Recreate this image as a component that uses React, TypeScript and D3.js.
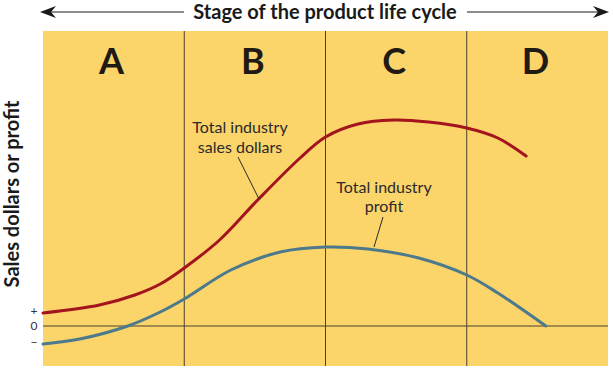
import React from "react";
import * as d3 from "d3";

const stages = ["A", "B", "C", "D"];
// x in stage units (0..4), y in arbitrary sales/profit units (0 = break-even)
const salesX = [0, 0.4, 0.65, 0.83, 1.0, 1.25, 1.52, 1.82, 2.0, 2.23, 2.48, 2.73, 3.0, 3.22, 3.42];
const salesY = [13, 21, 31, 42, 58, 86, 126, 168, 189, 202, 206, 204, 198, 188, 170];
const profitX = [0, 0.26, 0.6, 0.83, 1.0, 1.33, 1.68, 2.0, 2.3, 2.66, 3.0, 3.22, 3.56];
const profitY = [-18, -13, 0, 14, 27, 56, 74, 79, 77, 68, 51, 33, 0];
const yTicks = ["+", "0", "−"];
const yTickVals = [15, 0, -16];

export default function App() {
  const W = 613, H = 369;
  const left = 43, right = 608, top = 31, bottom = 366;
  const x = d3.scaleLinear().domain([0, 4]).range([left, right]);
  const y = d3.scaleLinear().domain([-40, 295]).range([bottom, top]);
  const line = d3.line<[number, number]>().x(d => x(d[0])).y(d => y(d[1])).curve(d3.curveCatmullRom.alpha(0.5));
  const sales = salesX.map((v, i) => [v, salesY[i]] as [number, number]);
  const profit = profitX.map((v, i) => [v, profitY[i]] as [number, number]);
  const font = "Lato, 'Open Sans', sans-serif";
  return (
    <svg width={W} height={H} style={{ position: "absolute", left: 0, top: 0 }} fontFamily={font}>
      <rect x={0} y={0} width={W} height={H} fill="#fff" />
      <rect x={left} y={top} width={right - left} height={bottom - top} fill="#FBD46A" />
      {[1, 2, 3].map(i => (
        <line key={i} x1={x(i)} x2={x(i)} y1={top} y2={bottom} stroke="#4a4030" strokeWidth={1} />
      ))}
      <line x1={left} x2={right} y1={y(0)} y2={y(0)} stroke="#4a4030" strokeWidth={1} />
      {stages.map((s, i) => (
        <text key={s} x={x(i + 0.5) - 2} y={74} textAnchor="middle" fontSize={36} fontWeight={700} fill="#1f1a14">{s}</text>
      ))}
      <path d={line(sales) || ""} fill="none" stroke="#A3141F" strokeWidth={3} strokeLinecap="round" />
      <path d={line(profit) || ""} fill="none" stroke="#4C7A8C" strokeWidth={3} strokeLinecap="round" />
      {/* annotations */}
      <text x={240} y={133} textAnchor="middle" fontSize={16} fill="#2a2a2a">Total industry</text>
      <text x={240} y={153} textAnchor="middle" fontSize={16} fill="#2a2a2a">sales dollars</text>
      <line x1={238} y1={157} x2={259} y2={199} stroke="#2a2a2a" strokeWidth={1} />
      <text x={384} y={193} textAnchor="middle" fontSize={16} fill="#2a2a2a">Total industry</text>
      <text x={384} y={212} textAnchor="middle" fontSize={16} fill="#2a2a2a">profit</text>
      <line x1={383} y1={217} x2={374} y2={247} stroke="#2a2a2a" strokeWidth={1} />
      {/* y labels */}
      {yTicks.map((t, i) => (
        <text key={t} x={34} y={y(yTickVals[i]) + 4} textAnchor="middle" fontSize={12} fill="#333">{t}</text>
      ))}
      <text transform={`translate(19,194) rotate(-90)`} textAnchor="middle" fontSize={20} fontWeight={700} fill="#1a1a1a">Sales dollars or profit</text>
      {/* title with arrows */}
      <text x={325} y={19} textAnchor="middle" fontSize={20} fontWeight={700} fill="#1a1a1a">Stage of the product life cycle</text>
      <line x1={46} x2={184} y1={12} y2={12} stroke="#1a1a1a" strokeWidth={1} />
      <line x1={467} x2={600} y1={12} y2={12} stroke="#1a1a1a" strokeWidth={1} />
      <path d="M40,12 L56,6 L51,12 L56,18 Z" fill="#1a1a1a" />
      <path d="M609,12 L593,6 L598,12 L593,18 Z" fill="#1a1a1a" />
    </svg>
  );
}
